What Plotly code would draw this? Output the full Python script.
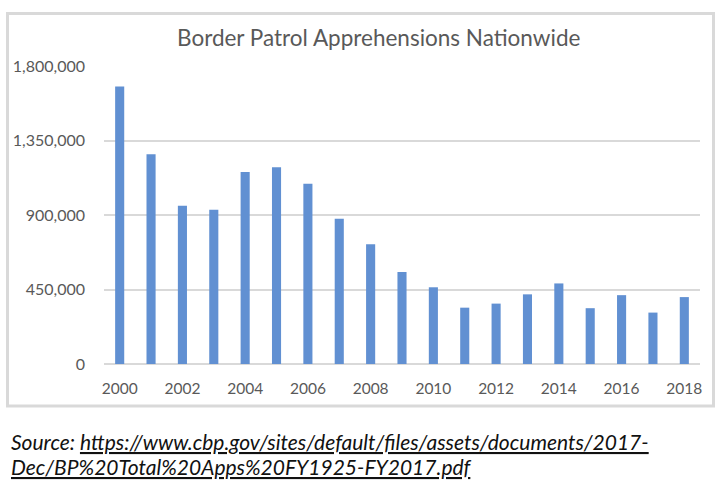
import plotly.graph_objects as go

years = list(range(2000, 2019))
apprehensions = [1676438, 1266214, 955310, 931557, 1160395, 1189075, 1089092,
                 876704, 723825, 556041, 463382, 340252, 364768, 420789,
                 486651, 337117, 415816, 310531, 404142]
y_ticks = [0, 450000, 900000, 1350000, 1800000]
x_ticks = list(range(2000, 2019, 2))

W, H = 720, 493
L, R, T, B = 104, 700, 66, 364

def px(x):
    return (x - L) / (R - L)

def py(y):
    return (B - y) / (B - T)

fig = go.Figure(go.Bar(
    x=years, y=apprehensions,
    marker=dict(color="#6190D2", line=dict(width=0)),
    hoverinfo="x+y",
))

FONT = "Lato, Open Sans, sans-serif"
fig.update_layout(
    width=W, height=H,
    margin=dict(l=L, r=W - R, t=T, b=H - B, pad=0),
    paper_bgcolor="white", plot_bgcolor="white",
    bargap=0.71,
    showlegend=False,
    font=dict(family=FONT, color="#595959", size=14),
    xaxis=dict(
        range=[1999.5, 2018.5], tickvals=x_ticks, ticktext=[str(v) for v in x_ticks],
        showgrid=False, zeroline=False, showline=False, ticks="",
        tickfont=dict(size=15.5, color="#595959"), ticklabelstandoff=13,
        fixedrange=True,
    ),
    yaxis=dict(
        range=[0, 1800000], tickvals=y_ticks, tickformat=",",
        showgrid=True, gridcolor="#D9D9D9", gridwidth=2,
        zeroline=True, zerolinecolor="#D9D9D9", zerolinewidth=2,
        showline=False, ticks="",
        tickfont=dict(size=16, color="#595959"), ticklabelstandoff=18,
        fixedrange=True,
    ),
    shapes=[dict(
        type="rect", xref="paper", yref="paper",
        x0=px(7.5), x1=px(713.5), y0=py(406), y1=py(13.5),
        line=dict(color="#D9D9D9", width=3), fillcolor="rgba(0,0,0,0)",
        layer="below",
    )],
    annotations=[
        dict(text="Border Patrol Apprehensions Nationwide", xref="paper", yref="paper",
             x=px(379), y=py(38), xanchor="center", yanchor="middle", showarrow=False,
             font=dict(family=FONT, size=22.5, color="#595959")),
        dict(text="<i>Source: <u>https://www.cbp.gov/sites/default/files/assets/documents/2017-</u></i>",
             xref="paper", yref="paper", x=px(9), y=py(441), xanchor="left", yanchor="middle",
             showarrow=False, font=dict(family=FONT, size=21, color="#111111")),
        dict(text="<i><u>Dec/BP%20Total%20Apps%20FY1925-FY2017.pdf</u></i>",
             xref="paper", yref="paper", x=px(9), y=py(467), xanchor="left", yanchor="middle",
             showarrow=False, font=dict(family=FONT, size=21, color="#111111")),
    ],
)

fig.write_html("out.html", config={"displayModeBar": False},
               post_script="document.body.style.margin='0';")
